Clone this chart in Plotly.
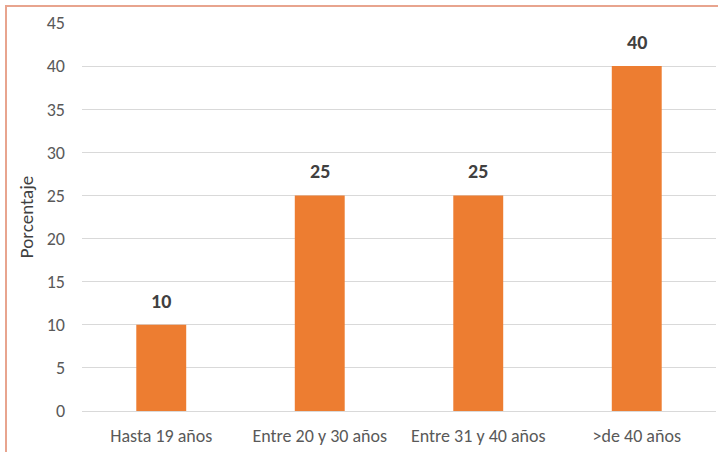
import plotly.graph_objects as go

categorias = ["Hasta 19 años", "Entre 20 y 30 años", "Entre 31 y 40 años", ">de 40 años"]
porcentajes = [10, 25, 25, 40]
ticks_y = [0, 5, 10, 15, 20, 25, 30, 35, 40, 45]

FONT = "Calibri, Carlito, Lato, sans-serif"

W, H = 718, 452
ml, mr, mt, mb = 82, 2, 23, 41
pw, ph = W - ml - mr, H - mt - mb

fig = go.Figure(
    go.Bar(
        x=categorias,
        y=porcentajes,
        marker=dict(color="#ED7D31", line=dict(width=0)),
        width=0.315,
        hoverinfo="x+y",
    )
)

# value labels above each bar
for cat, val in zip(categorias, porcentajes):
    fig.add_annotation(
        x=cat,
        y=val,
        text=f"<b>{val}</b>",
        showarrow=False,
        yanchor="bottom",
        yshift=10,
        font=dict(family=FONT, size=20, color="#404040"),
    )

fig.update_layout(
    width=W,
    height=H,
    margin=dict(l=ml, r=mr, t=mt, b=mb),
    paper_bgcolor="white",
    plot_bgcolor="white",
    showlegend=False,
    font=dict(family=FONT, color="#595959"),
    xaxis=dict(
        showgrid=False,
        showline=True,
        linecolor="#D9D9D9",
        linewidth=1,
        ticks="",
        ticklabelstandoff=8,
        tickfont=dict(size=18, color="#595959"),
        range=[-0.5, 3.5],
    ),
    yaxis=dict(
        range=[0, 45],
        tickvals=ticks_y,
        showgrid=True,
        gridcolor="#D9D9D9",
        gridwidth=1,
        zeroline=False,
        showline=False,
        ticks="",
        ticklabelstandoff=16,
        tickfont=dict(size=18, color="#595959"),
        title=dict(text="Porcentaje", font=dict(size=19, color="#404040", weight=500), standoff=8),
    ),
    shapes=[
        dict(
            type="rect",
            xref="paper",
            yref="paper",
            x0=(6 - ml) / pw,
            x1=(W + 20 - ml) / pw,
            y0=-(mb + 20) / ph,
            y1=1 + (mt - 6) / ph,
            line=dict(color="#E8A48E", width=2),
            fillcolor="rgba(0,0,0,0)",
            layer="above",
        )
    ],
)

fig.write_html("out.html")
